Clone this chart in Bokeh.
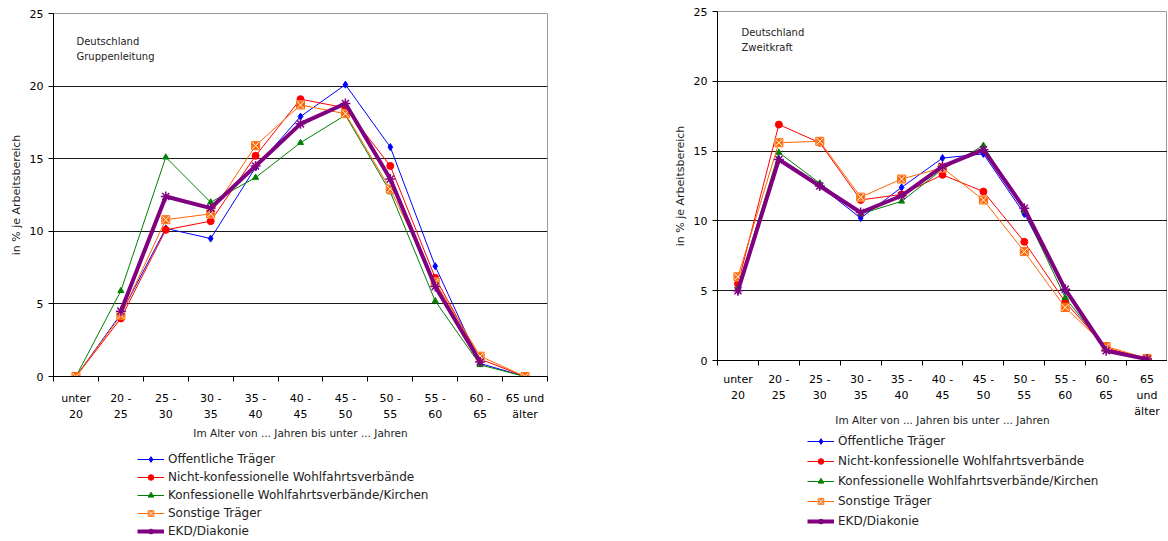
import math
from bokeh.plotting import figure
from bokeh.models import (ColumnDataSource, FixedTicker, Legend, LegendItem, Label, Range1d)
from bokeh.layouts import row, column
from bokeh.embed import file_html
from bokeh.resources import INLINE

nan = float("nan")

series_names = ["Öffentliche Träger", "Nicht-konfessionelle Wohlfahrtsverbände",
                "Konfessionelle Wohlfahrtsverbände/Kirchen", "Sonstige Träger", "EKD/Diakonie"]

labels_left = ["unter\n20", "20 -\n25", "25 -\n30", "30 -\n35", "35 -\n40", "40 -\n45",
               "45 -\n50", "50 -\n55", "55 -\n60", "60 -\n65", "65 und\nälter"]
labels_right = ["unter\n20", "20 -\n25", "25 -\n30", "30 -\n35", "35 -\n40", "40 -\n45",
                "45 -\n50", "50 -\n55", "55 -\n60", "60 -\n65", "65\nund\nälter"]

# Gruppenleitung
oeff_gl = [0, 4.3, 10.2, 9.5, 14.4, 17.9, 20.1, 15.8, 7.6, 0.9, 0]
nk_gl = [0, 4.0, 10.1, 10.7, 15.2, 19.1, 18.5, 14.5, 6.8, 1.2, 0]
konf_gl = [0, 5.9, 15.1, 12.0, 13.7, 16.1, 18.0, 12.7, 5.2, 0.8, 0]
sonst_gl = [0, 4.2, 10.8, 11.2, 15.9, 18.7, 18.1, 12.9, 6.5, 1.4, 0]
ekd_gl = [nan, 4.5, 12.4, 11.6, 14.5, 17.4, 18.8, 13.6, 6.2, 1.0, nan]

# Zweitkraft
oeff_zk = [5.0, 14.4, 12.5, 10.2, 12.4, 14.5, 14.8, 10.5, 5.0, 0.8, 0.1]
nk_zk = [5.5, 16.9, 15.6, 11.5, 11.9, 13.3, 12.1, 8.5, 4.2, 0.9, 0.1]
konf_zk = [5.2, 14.9, 12.7, 10.5, 11.4, 13.7, 15.4, 10.7, 4.5, 0.8, 0.1]
sonst_zk = [6.0, 15.6, 15.7, 11.7, 13.0, 13.8, 11.5, 7.8, 3.8, 1.0, 0.15]
ekd_zk = [5.0, 14.4, 12.5, 10.6, 11.8, 13.9, 15.1, 10.9, 5.1, 0.7, 0.1]

FONT = "DejaVu Sans"
colors = ["#0000FF", "#FF0000", "#008000", "#FF6600", "#800080"]
styles = [
    dict(marker="diamond", size=7, lw=1),
    dict(marker="circle", size=7, lw=1),
    dict(marker="triangle", size=6, lw=1),
    dict(marker="square_x", size=8, lw=1),
    dict(marker="asterisk", size=10, lw=1.5),
]


def draw_series(p, src):
    items = []
    for k, st in enumerate(styles):
        lw = 4 if k == 4 else 1
        r1 = p.line("x", f"s{k}", source=src, line_color=colors[k], line_width=lw)
        if st["marker"] == "square_x":
            r2 = p.scatter("x", f"s{k}", source=src, marker="square_x", size=st["size"],
                           fill_color=colors[k], line_color="white", line_width=1)
            r3 = p.scatter("x", f"s{k}", source=src, marker="square", size=st["size"],
                           fill_color=None, line_color=colors[k], line_width=1)
            items.append(LegendItem(label=series_names[k], renderers=[r1, r2, r3]))
        else:
            r2 = p.scatter("x", f"s{k}", source=src, marker=st["marker"], size=st["size"],
                           fill_color=colors[k], line_color=colors[k], line_width=st["lw"])
            items.append(LegendItem(label=series_names[k], renderers=[r1, r2]))
    return items


def make_chart(data, labels, note, frame_w, frame_h, border_left, border_right, border_top,
               border_bottom, tick_standoff, title_standoff, note_pos):
    n = len(labels)
    x = [i + 0.5 for i in range(n)]
    p = figure(output_backend="svg", toolbar_location=None,
               frame_width=frame_w, frame_height=frame_h,
               min_border_left=border_left, min_border_right=border_right,
               min_border_top=border_top, min_border_bottom=border_bottom,
               x_range=Range1d(0, n), y_range=Range1d(0, 25))
    p.background_fill_color = "white"
    p.border_fill_color = "white"
    p.outline_line_color = "#9a9a9a"
    p.outline_line_width = 1

    xa = p.xaxis[0]
    xa.ticker = FixedTicker(ticks=x, minor_ticks=list(range(n + 1)))
    xa.major_label_overrides = {xi: lab for xi, lab in zip(x, labels)}
    xa.major_tick_out = 0
    xa.major_tick_in = 0
    xa.minor_tick_out = 5
    xa.minor_tick_in = 0
    xa.minor_tick_line_color = "black"
    xa.axis_line_color = "black"
    xa.major_label_text_font = FONT
    xa.major_label_text_font_size = "11px"
    xa.major_label_text_color = "black"
    xa.major_label_text_line_height = 1.25
    xa.major_label_standoff = tick_standoff
    xa.axis_label = "Im Alter von ... Jahren bis unter ... Jahren"
    xa.axis_label_text_font = FONT
    xa.axis_label_text_font_size = "10.5px"
    xa.axis_label_text_font_style = "normal"
    xa.axis_label_text_color = "#222222"
    xa.axis_label_standoff = title_standoff

    ya = p.yaxis[0]
    ya.ticker = FixedTicker(ticks=[0, 5, 10, 15, 20, 25])
    ya.minor_tick_line_color = None
    ya.major_tick_out = 5
    ya.major_tick_in = 0
    ya.axis_line_color = "black"
    ya.major_tick_line_color = "black"
    ya.major_label_text_font = FONT
    ya.major_label_text_font_size = "11px"
    ya.major_label_text_color = "black"
    ya.major_label_standoff = 5
    ya.axis_label = "in % je Arbeitsbereich"
    ya.axis_label_text_font = FONT
    ya.axis_label_text_font_size = "11px"
    ya.axis_label_text_font_style = "normal"
    ya.axis_label_text_color = "#222222"
    ya.axis_label_standoff = 4

    p.xgrid.grid_line_color = None
    p.ygrid.ticker = FixedTicker(ticks=[5, 10, 15, 20])
    p.ygrid.grid_line_color = "#1a1a1a"
    p.ygrid.grid_line_width = 1

    src = ColumnDataSource(dict(x=x, s0=data[0], s1=data[1], s2=data[2], s3=data[3], s4=data[4]))
    draw_series(p, src)

    nx, ny1, ny2 = note_pos
    for txt, yy in zip(note, [ny1, ny2]):
        p.add_layout(Label(x=nx, y=yy, x_units="screen", y_units="screen",
                           text=txt, text_font=FONT, text_font_size="10px",
                           text_color="#222222", text_baseline="middle", text_align="left"))
    return p


def make_legend_fig(width, height, loc, spacing):
    lf = figure(output_backend="svg", toolbar_location=None, width=width, height=height,
                x_axis_type=None, y_axis_type=None, min_border=0,
                x_range=Range1d(0, 1), y_range=Range1d(0, 1))
    lf.outline_line_color = None
    lf.xgrid.grid_line_color = None
    lf.ygrid.grid_line_color = None
    # legend-only renderers: points placed outside the visible range
    hidden = ColumnDataSource(dict(x=[-10, -9], s0=[-10, -10], s1=[-10, -10], s2=[-10, -10],
                                   s3=[-10, -10], s4=[-10, -10]))
    items = draw_series(lf, hidden)
    legend = Legend(items=items, location=loc, orientation="vertical")
    legend.label_text_font = FONT
    legend.label_text_font_size = "12px"
    legend.label_text_color = "#222222"
    legend.glyph_width = 27
    legend.glyph_height = 14
    legend.label_height = 14
    legend.label_standoff = 4
    legend.spacing = spacing
    legend.padding = 0
    legend.margin = 0
    legend.border_line_color = None
    legend.background_fill_alpha = 0
    lf.add_layout(legend, "center")
    return lf


p1 = make_chart([oeff_gl, nk_gl, konf_gl, sonst_gl, ekd_gl], labels_left,
                ["Deutschland", "Gruppenleitung"],
                frame_w=494, frame_h=363, border_left=53, border_right=123, border_top=13,
                border_bottom=76, tick_standoff=10, title_standoff=3,
                note_pos=(23, 335, 320))
p2 = make_chart([oeff_zk, nk_zk, konf_zk, sonst_zk, ekd_zk], labels_right,
                ["Deutschland", "Zweitkraft"],
                frame_w=450, frame_h=349, border_left=46, border_right=0, border_top=11,
                border_bottom=74, tick_standoff=7, title_standoff=-7,
                note_pos=(24, 328, 313))

leg1 = make_legend_fig(670, 88, (84, 2), 4)
leg2 = make_legend_fig(496, 106, (90, 12), 6)

layout = row(column(p1, leg1), column(p2, leg2))
open("out.html", "w").write(file_html(layout, INLINE))
